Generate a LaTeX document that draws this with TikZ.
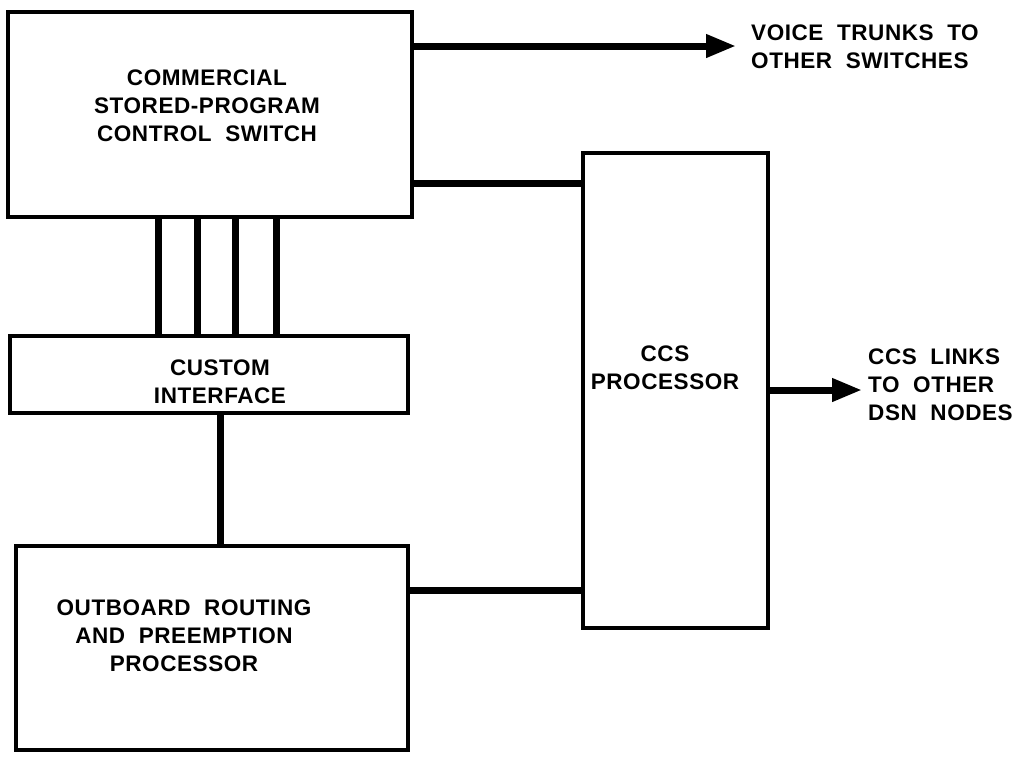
\documentclass[tikz,border=0pt]{standalone}
\usepackage{fontspec}
\setmainfont{Liberation Sans}
\usetikzlibrary{arrows.meta}
\begin{document}
\begin{tikzpicture}[x=1pt,y=-1pt,
  box/.style={draw,line width=3.5pt,inner sep=0pt},
  lbl/.style={font=\fontsize{22.5}{28}\selectfont\bfseries\addfontfeature{LetterSpace=2.5},align=center,inner sep=0pt},
  side/.style={font=\fontsize{22.5}{28}\selectfont\bfseries\addfontfeature{LetterSpace=2.5},align=left,inner sep=0pt,anchor=west},
  conn/.style={line width=7pt},
  arr/.style={line width=7pt,-{Triangle[length=30pt,width=22pt]}}]
\useasboundingbox (0,0) rectangle (1026,756);
% boxes
\node[box,minimum width=404pt,minimum height=205pt] (csw) at (210,114.5) {};
\node[box,minimum width=398pt,minimum height=77pt] (ci) at (209,374.5) {};
\node[box,minimum width=392pt,minimum height=204pt] (ob) at (212,648) {};
\node[box,minimum width=185pt,minimum height=475pt] (ccs) at (675.5,390.5) {};
% texts
\node[lbl] (tcsw) at (207,106) {COMMERCIAL\\STORED-PROGRAM\\CONTROL\ \ SWITCH};
\node[lbl] (tci) at (220,382) {CUSTOM\\INTERFACE};
\node[lbl] (tob) at (184,636) {OUTBOARD\ \ ROUTING\\AND\ \ PREEMPTION\\PROCESSOR};
\node[lbl] (tccs) at (665,368) {CCS\\PROCESSOR};
\node[side] (tvt) at (751,46.5) {VOICE\ \ TRUNKS\ \ TO\\OTHER\ \ SWITCHES};
\node[side] (tcl) at (868,385) {CCS\ \ LINKS\\TO\ \ OTHER\\DSN\ \ NODES};
% coordinates
\coordinate (v1) at (158,0);
\coordinate (v2) at (197,0);
\coordinate (v3) at (235,0);
\coordinate (v4) at (276,0);
\coordinate (v5) at (220,0);
\coordinate (vt) at (736,46);
\coordinate (h1) at (0,183);
\coordinate (h2) at (0,590);
\coordinate (cl) at (862,390);
% connectors
\foreach \v in {v1,v2,v3,v4}
  \draw[conn] (csw.south -| \v) -- (ci.north -| \v);
\draw[conn] (ci.south -| v5) -- (ob.north -| v5);
\draw[conn] (csw.east |- h1) -- (ccs.west |- h1);
\draw[conn] (ob.east |- h2) -- (ccs.west |- h2);
\draw[arr] (csw.east |- vt) -- (vt);
\draw[arr] (ccs.east |- cl) -- (cl);
\end{tikzpicture}
\end{document}
